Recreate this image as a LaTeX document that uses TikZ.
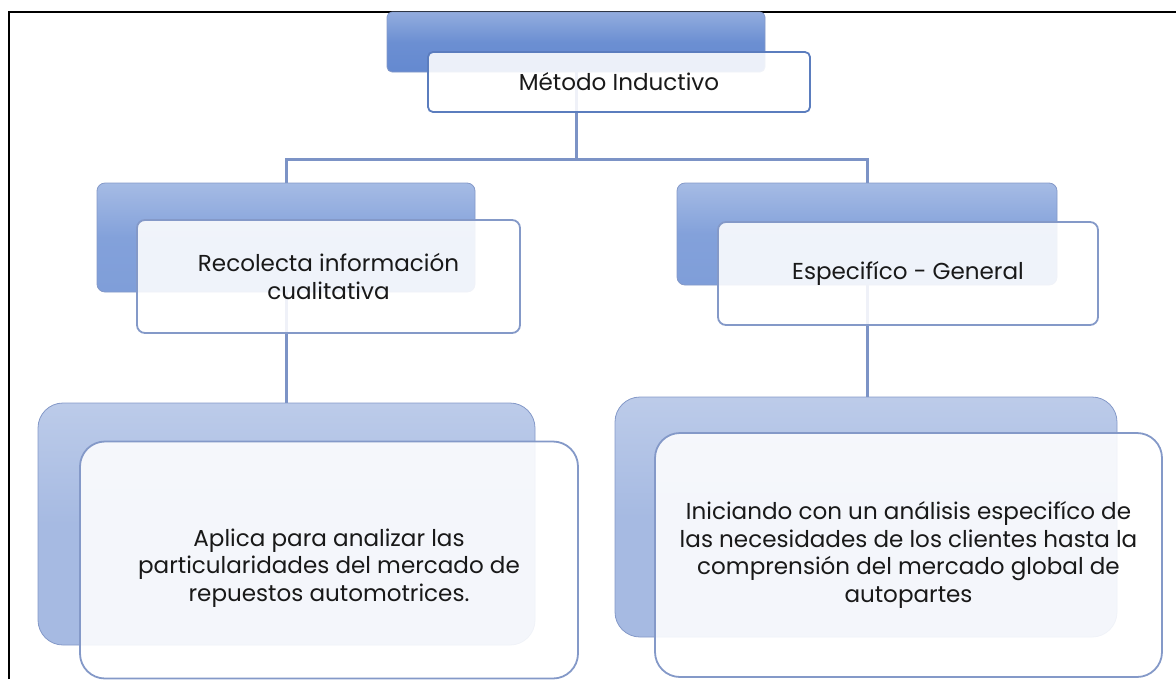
\documentclass[tikz,border=0pt]{standalone}
\usepackage{fontspec}
\setmainfont{Poppins}
\usepackage{tikz}
\definecolor{linkblue}{HTML}{7C93C6}
\definecolor{edgeblue}{HTML}{5B7DBE}
\definecolor{paleedge}{HTML}{8499C8}
\definecolor{deepblue}{HTML}{6489D0}
\definecolor{midblue}{HTML}{7F9ED9}
\definecolor{lowblue}{HTML}{A6BAE2}
\colorlet{txt}{black!90}
\newlength\px
\setlength\px{0.025cm}
\tikzset{
	back/.style={rectangle,draw=paleedge,line width=0.8\px,inner sep=0pt},
	backtop/.style={back,rounded corners=5\px,top color=deepblue!70,bottom color=deepblue,middle color=deepblue!95},
	backmid/.style={back,rounded corners=8\px,top color=midblue!70,bottom color=midblue,middle color=midblue!97},
	backlow/.style={back,rounded corners=25\px,top color=lowblue!75,bottom color=lowblue,middle color=lowblue},
	front/.style={rectangle,draw=paleedge,line width=1.8\px,fill=white,fill opacity=0.88,text opacity=1,
		text=txt,align=center,inner sep=0pt,font=\fontsize{16.4}{19.6}\selectfont},
	link/.style={draw=linkblue,line width=3\px},
	frame/.style={draw=black,line width=2\px},
	}

\begin{document}
\begin{tikzpicture}[x=\px,y=-\px]
\useasboundingbox (0,0) rectangle (1176,679);
\draw[frame] (9,679) |- (1176,12);

% connectors first, the boxes lie over them
\coordinate (j) at (576,159);
\coordinate (mb0) at (576,72);
\coordinate (lb0) at (286,292);
\coordinate (rb0) at (867,285);
\draw[link] (mb0) -- (j) -| (286,183);
\draw[link] (j) -| (867,183);
\draw[link] (lb0) -- (286,403);
\draw[link] (rb0) -- (867,397);

% top
\node[backtop,minimum width=378\px,minimum height=60\px] (mb) at (576,42) {};
\node[front,draw=edgeblue,rounded corners=5\px,minimum width=382\px,minimum height=60\px] (m) at (619,82) {Método Inductivo};

% middle
\node[backmid,minimum width=378\px,minimum height=109\px] (lb) at (286,237.5) {};
\node[front,rounded corners=8\px,minimum width=383\px,minimum height=113\px] (l) at (328.5,276.5) {Recolecta información\\cualitativa};
\node[backmid,minimum width=380\px,minimum height=102\px] (rb) at (867,234) {};
\node[front,rounded corners=8\px,minimum width=380\px,minimum height=103\px] (r) at (908,273.5) {Especifíco - General};

% bottom
\node[backlow,minimum width=497\px,minimum height=242\px] (lab) at (286.5,524) {};
\node[front,rounded corners=25\px,minimum width=498\px,minimum height=237\px] (la) at (329,560) {\rule{0pt}{24pt}Aplica para analizar las\\particularidades del mercado de\\repuestos automotrices.};
\node[backlow,minimum width=502\px,minimum height=240\px] (rab) at (866,517) {};
\node[front,rounded corners=25\px,minimum width=507\px,minimum height=244\px] (ra) at (908.5,555) {Iniciando con un análisis especifíco de\\las necesidades de los clientes hasta la\\comprensión del mercado global de\\autopartes};
\end{tikzpicture}
\end{document}
